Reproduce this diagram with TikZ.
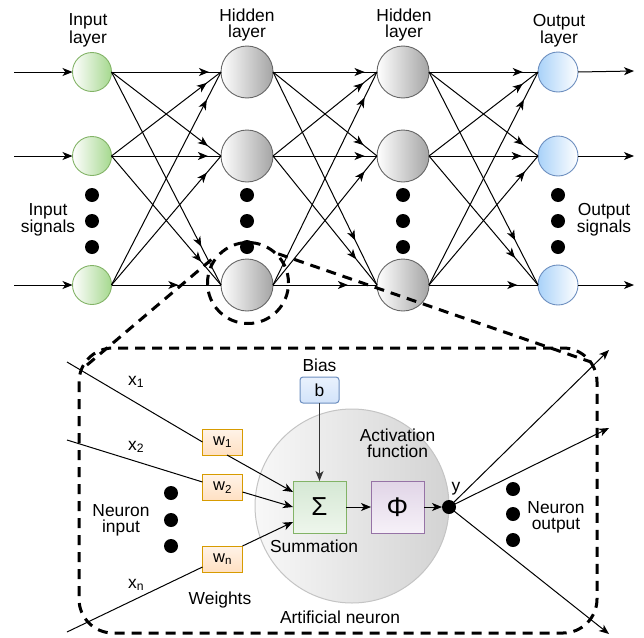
\documentclass[tikz,border=0pt]{standalone}
\usepackage{fontspec}
\setmainfont{Liberation Sans}
\usetikzlibrary{arrows.meta,decorations.markings,calc}
\definecolor{greenB}{HTML}{82B366}
\definecolor{greenF}{HTML}{A5D88E}
\definecolor{grayB}{HTML}{666666}
\definecolor{grayF}{HTML}{A4A4A4}
\definecolor{blueB}{HTML}{6C8EBF}
\definecolor{blueF}{HTML}{A9D2F9}
\definecolor{neuronB}{HTML}{C4C4C4}
\definecolor{neuronL}{HTML}{F8F8F8}
\definecolor{neuronR}{HTML}{D3D3D3}
\definecolor{sigT}{HTML}{D5E8D4}
\definecolor{sigBot}{HTML}{EEF6EC}
\definecolor{phiB}{HTML}{9673A6}
\definecolor{phiT}{HTML}{E1D5E7}
\definecolor{phiBot}{HTML}{F6F1F8}
\definecolor{wB}{HTML}{D79B00}
\definecolor{wT}{HTML}{FFF3E8}
\definecolor{wBot}{HTML}{FFE0C2}
\definecolor{bT}{HTML}{EAF2FD}
\definecolor{bBot}{HTML}{D2E3FA}
\definecolor{darkline}{HTML}{333333}
\begin{document}
\begin{tikzpicture}[x=1pt,y=-1pt,
  font=\fontsize{17.4}{16}\selectfont,
  >={Stealth[length=10pt,width=8pt,inset=2.8pt]},
  thinline/.style={line width=1pt},
  link/.style={thinline, postaction={decorate},
    decoration={markings, mark=at position #1 with {\arrow{>}}}},
  innode/.style={circle, minimum size=39pt, inner sep=0pt, outer sep=0pt,
    draw=greenB, line width=0.9pt, left color=white, right color=greenF},
  hidnode/.style={circle, minimum size=52pt, inner sep=0pt, outer sep=0pt,
    draw=grayB, line width=0.9pt, left color=white, right color=grayF},
  outnode/.style={circle, minimum size=40pt, inner sep=0pt, outer sep=0pt,
    draw=blueB, line width=0.9pt, left color=blueF, right color=white},
  dot/.style={circle, fill=black, minimum size=14pt, inner sep=0pt, outer sep=0pt},
  txt/.style={align=center, inner sep=0pt},
  btxt/.style={inner sep=0pt, anchor=base},
  bigdash/.style={line width=3pt, dash pattern=on 10pt off 7pt},
  boxbase/.style={inner sep=0pt, outer sep=0pt, line width=1pt},
  sigbox/.style={boxbase, draw=greenB, top color=sigT, bottom color=sigBot,
    minimum width=53pt, minimum height=52pt, font=\fontsize{26}{26}\selectfont},
  phibox/.style={boxbase, draw=phiB, top color=phiT, bottom color=phiBot,
    minimum width=53pt, minimum height=52pt, font=\fontsize{27}{27}\selectfont},
  wbox/.style={boxbase, draw=wB, top color=wT, bottom color=wBot,
    minimum width=40pt, minimum height=26pt, font=\fontsize{16.5}{16}\selectfont},
  biasbox/.style={boxbase, draw=blueB, top color=bT, bottom color=bBot,
    rounded corners=3pt, minimum width=39pt, minimum height=26pt}
]
\useasboundingbox (0,0) rectangle (644,637);

% ---------- top network ----------
\node[innode] (i1) at (92,72) {};
\node[innode] (i2) at (92,156) {};
\node[innode] (i3) at (92,285) {};
\node[hidnode] (h1) at (247,72) {};
\node[hidnode] (h2) at (247,156) {};
\node[hidnode] (h3) at (247,285) {};
\node[hidnode] (g1) at (403,72) {};
\node[hidnode] (g2) at (403,156) {};
\node[hidnode] (g3) at (403,285) {};
\node[outnode] (o1) at (558,72) {};
\node[outnode] (o2) at (558,156) {};
\node[outnode] (o3) at (558,285) {};

\foreach \a/\b/\p in {i1/h1/.89, i2/h1/.87, i3/h1/.87,
                      i1/h2/.88, i2/h2/.88, i3/h2/.87,
                      i1/h3/.82, i2/h3/.82, i3/h3/.61,
                      h1/g1/.88, h2/g1/.87, h3/g1/.88,
                      h1/g2/.87, h2/g2/.88, h3/g2/.88,
                      h1/g3/.79, h2/g3/.80, h3/g3/.72,
                      g1/o1/.86, g2/o1/.86, g3/o1/.87,
                      g1/o2/.87, g2/o2/.85, g3/o2/.88,
                      g1/o3/.79, g2/o3/.79, g3/o3/.81}
  \draw[link=\p] (\a.east) -- (\b.west);

\coordinate (s1) at (14,72);
\coordinate (s2) at (14,156);
\coordinate (s3) at (14,285);
\coordinate (t1) at (634,71);
\coordinate (t2) at (634,156);
\coordinate (t3) at (634,285);
\foreach \k in {1,2,3} {
  \draw[thinline,->] (s\k) -- (i\k.west);
  \draw[thinline,->] (o\k.east) -- (t\k);
}

\foreach \x/\n in {92/a,247/b,403/c,558/d}
  \foreach \y/\m in {195/1,221/2,247/3}
    \node[dot] (dt\n\m) at (\x,\y) {};

\node[txt] (lin) at (88,30.4) {Input\\layer};
\node[txt] (lh1) at (247,25.4) {Hidden\\layer};
\node[txt] (lh2) at (404,25.4) {Hidden\\layer};
\node[txt] (lout) at (559,30.4) {Output\\layer};
\node[txt] (lis) at (48,219.7) {Input\\signals};
\node[txt] (los) at (604,220) {Output\\signals};

% ---------- zoom marks ----------
\node[circle, draw, bigdash, minimum size=81pt, inner sep=0pt] (ring) at (248,283) {};
\coordinate (cl) at (87,365);
\coordinate (cr) at (591,362);
\draw[bigdash] (cl) -- (ring.139);
\draw[bigdash] (ring.44) -- (cr);
\draw[bigdash, rounded corners=34pt] (79,348) rectangle (597,633);

% ---------- artificial neuron ----------
\node[circle, draw=neuronB, line width=1pt, left color=neuronL, right color=neuronR,
      minimum size=194pt, inner sep=0pt] (neuron) at (352,506) {};
\node[sigbox] (sig) at (319.5,507) {Σ};
\node[phibox] (phi) at (397.5,507) {Φ};
\node[biasbox] (b) at (319.5,390) {b};
\node[wbox] (w1) at (222.5,442) {w\textsubscript{1}};
\node[wbox] (w2) at (222.5,487.5) {w\textsubscript{2}};
\node[wbox] (wn) at (222.5,559) {w\textsubscript{n}};
\node[dot] (y) at (449,507) {};

\draw[thinline, darkline, ->] (b.south) -- (sig.north);
\draw[thinline, ->] (sig.east) -- (phi.west);
\draw[thinline, ->] (phi.east) -- (y.west);

\draw[thinline, ->] ([xshift=4.5pt]w1.south) -- ([yshift=15pt]sig.west);
\draw[thinline, ->] ([yshift=-4.5pt]w2.east) -- (sig.west);
\draw[thinline, ->] (wn.north east) -- ([yshift=-15pt]sig.west);

\coordinate (x1s) at (67,362);
\coordinate (x2s) at (67,440);
\coordinate (xns) at (67,632);
\draw[thinline] (x1s) -- (w1.west);
\draw[thinline] (x2s) -- ([yshift=5.5pt]w2.west);
\draw[thinline] (xns) -- ([yshift=-8pt]wn.west);

\coordinate (yo1) at (609,350);
\coordinate (yo2) at (609,428);
\coordinate (yo3) at (609,634);
\draw[thinline, ->] (y.center) -- (yo1);
\draw[thinline, ->] (y.center) -- (yo2);
\draw[thinline, ->] (y.center) -- (yo3);

\foreach \y/\m in {493/1,520/2,546/3}
  \node[dot] (ni\m) at (171,\y) {};
\foreach \y/\m in {489/1,514/2,540/3}
  \node[dot] (no\m) at (513,\y) {};

\node[btxt, anchor=base west] (lx1) at (128,385) {x\textsubscript{1}};
\node[btxt, anchor=base west] (lx2) at (128,450) {x\textsubscript{2}};
\node[btxt, anchor=base west] (lxn) at (128,588) {x\textsubscript{n}};
\node[btxt] (lbias) at (319.5,371.5) {Bias};
\node[btxt] (lsum) at (314,552) {Summation};
\node[btxt] (lw) at (220,604) {Weights};
\node[btxt] (lan) at (340,623) {Artificial neuron};
\node[btxt] (ly) at (456,491) {y};
\node[txt] (lact) at (397.5,443.6) {Activation\\function};
\node[txt] (lni) at (121,520.4) {Neuron\\input};
\node[txt] (lno) at (556,517) {Neuron\\output};
\end{tikzpicture}
\end{document}
